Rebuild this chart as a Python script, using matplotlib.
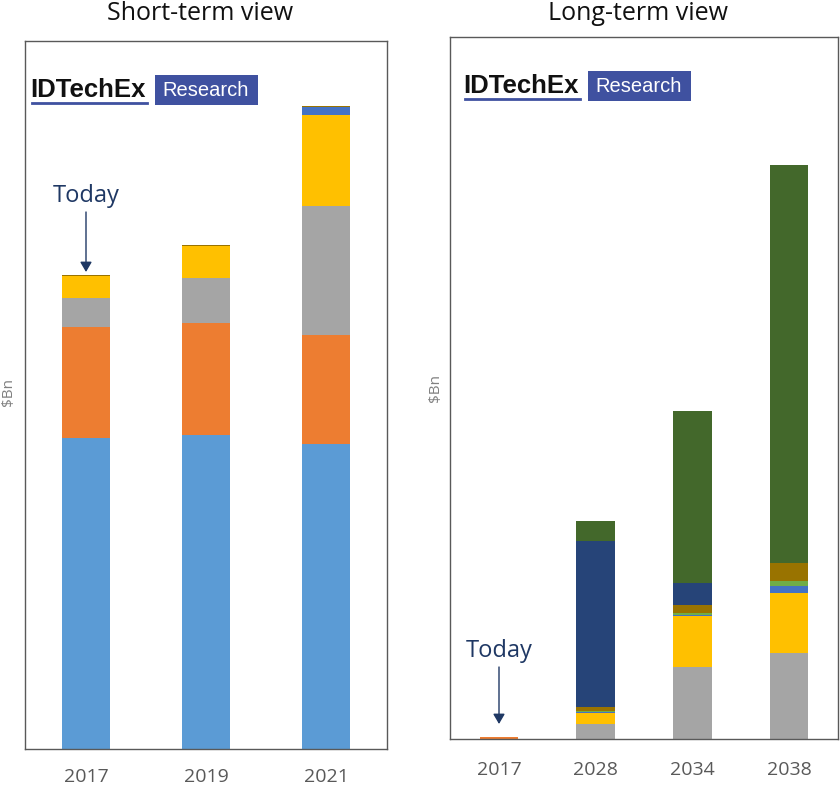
import matplotlib
matplotlib.use("Agg")
import matplotlib.pyplot as plt
import numpy as np

W, H = 840, 785

# ---- data (arbitrary $Bn units) ----
short_years = ["2017", "2019", "2021"]
short_s1 = [311, 314, 305]   # light blue
short_s2 = [111, 112, 109]   # orange
short_s3 = [29, 45, 129]     # grey
short_s4 = [22, 32, 91]      # yellow
short_s5 = [0, 0, 8]         # blue
short_s7 = [1.5, 1.5, 1.5]   # dark gold

long_years = ["2017", "2028", "2034", "2038"]
long_s2 = [2, 0, 0, 0]        # orange
long_s3 = [0, 15, 72, 86]     # grey
long_s4 = [0, 11, 51, 60]     # yellow
long_s5 = [0, 1, 1, 7]        # blue
long_s6 = [0, 1, 2, 5]        # green
long_s7 = [0, 4, 8, 18]       # dark gold
long_s8 = [0, 166, 22, 0]     # navy
long_s9 = [0, 20, 172, 397]   # dark green

C1, C2, C3, C4 = "#5b9bd5", "#ed7d31", "#a5a5a5", "#ffc000"
C5, C6, C7, C8, C9 = "#4472c4", "#70ad47", "#997300", "#264478", "#43682b"

fig = plt.figure(figsize=(W / 100, H / 100), dpi=100)
fig.patch.set_facecolor("white")

def fx(px):
    return px / W

def fy(py):
    return 1 - py / H

def stack(ax, x, series, width):
    bottom = np.zeros(len(x))
    for vals, col in series:
        vals = np.array(vals, dtype=float)
        ax.bar(x, vals, width=width, bottom=bottom, color=col, linewidth=0)
        bottom += vals

def style(ax, pad):
    for s in ax.spines.values():
        s.set_color("#595959")
        s.set_linewidth(1.0)
    ax.set_yticks([])
    ax.tick_params(axis="x", length=0, labelsize=14, labelcolor="#595959", pad=pad)
    for lab in ax.get_xticklabels():
        lab.set_fontfamily("Open Sans")

# ---- left panel ----
axL = fig.add_axes([fx(25), fy(749), fx(387 - 25), (749 - 41) / H])
xL = np.arange(len(short_years))
stack(axL, xL, [(short_s1, C1), (short_s2, C2), (short_s3, C3), (short_s4, C4),
                (short_s5, C5), (short_s7, C7)], 0.4)
axL.set_xlim((25 - 86) / 120, (387 - 86) / 120)
axL.set_ylim(0, 708)
axL.set_xticks(xL)
axL.set_xticklabels(short_years)
style(axL, 14)

# ---- right panel ----
axR = fig.add_axes([fx(450), fy(739), fx(838 - 450), (739 - 37) / H])
xR = np.arange(len(long_years))
stack(axR, xR, [(long_s2, C2), (long_s3, C3), (long_s4, C4), (long_s5, C5),
                (long_s6, C6), (long_s7, C7), (long_s8, C8), (long_s9, C9)], 0.4)
unit = 96.7
axR.set_xlim((450 - 499) / unit, (838 - 499) / unit)
axR.set_ylim(0, 701)
axR.set_xticks(xR)
axR.set_xticklabels(long_years)
style(axR, 16)

# ---- titles ----
fig.text(fx(200), fy(13), "Short-term view", ha="center", va="center",
         fontsize=18, family="Open Sans", color="#111111")
fig.text(fx(638), fy(13), "Long-term view", ha="center", va="center",
         fontsize=18, family="Open Sans", color="#111111")

# ---- y labels ----
fig.text(fx(9), fy(392), "$Bn", rotation=90, ha="center", va="center",
         fontsize=11, family="Open Sans", color="#808080")
fig.text(fx(435), fy(388), "$Bn", rotation=90, ha="center", va="center",
         fontsize=11, family="Open Sans", color="#808080")

# ---- logos ----
def logo(x0, y0):
    fig.text(fx(x0), fy(y0), "IDTechEx", ha="left", va="center",
             fontsize=18.5, fontweight="bold", family="Liberation Sans", color="#111111")
    fig.add_artist(plt.Line2D([fx(x0 + 2), fx(x0 + 117)], [fy(y0 + 13), fy(y0 + 13)],
                              color="#3f51a0", lw=2))
    fig.add_artist(plt.Rectangle((fx(x0 + 125), fy(y0 + 15)), fx(103), 30 / H,
                                 facecolor="#3f51a0", edgecolor="none"))
    fig.text(fx(x0 + 176), fy(y0), "Research", ha="center", va="center",
             fontsize=14.5, family="Liberation Sans", color="white")

logo(30, 90)
logo(463, 86)

# ---- Today annotations ----
def today(xc, ytext, y1, y2):
    fig.text(fx(xc), fy(ytext), "Today", ha="center", va="center",
             fontsize=17, family="Open Sans", color="#1f3864")
    fig.add_artist(matplotlib.patches.FancyArrowPatch(
        (fx(xc), fy(y1)), (fx(xc), fy(y2)), transform=fig.transFigure,
        arrowstyle="-|>,head_length=6,head_width=3.5", color="#1f3864", lw=1,
        shrinkA=0, shrinkB=0))

today(86, 196, 212, 272)
today(499, 651, 667, 724)

fig.savefig("out.png", dpi=100, facecolor="white")
